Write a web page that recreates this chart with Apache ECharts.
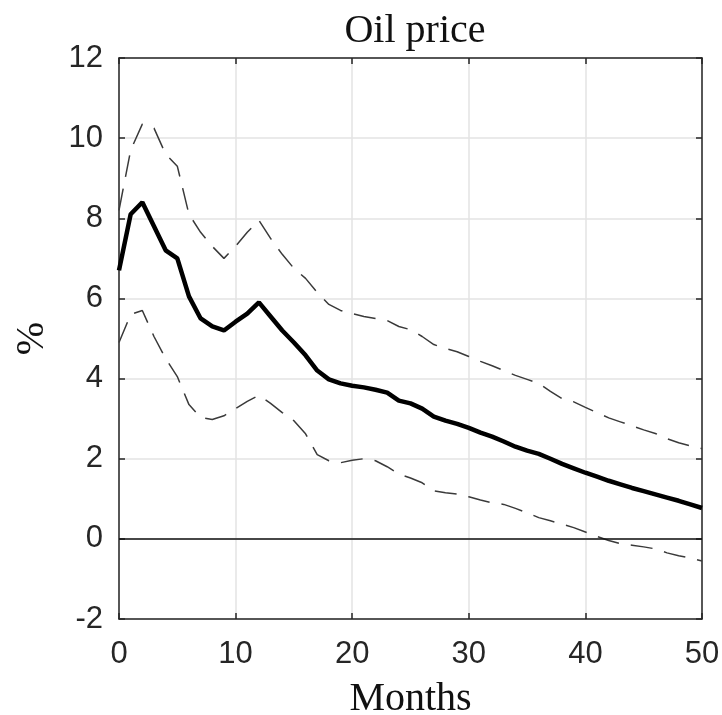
<!DOCTYPE html>
<html>
<head>
<meta charset="utf-8">
<title>Oil price</title>
<script src="https://cdn.jsdelivr.net/npm/echarts@6/dist/echarts.min.js"></script>
<style>
    html, body { margin: 0; padding: 0; background: #fff; }
    #chart { width: 722px; height: 715px; }
</style>
</head>
<body>
<div id="chart"></div>
<script>
// months after the shock
var months = [0, 1, 2, 3, 4, 5, 6, 7, 8, 9, 10, 11, 12, 13, 14, 15, 16, 17, 18, 19, 20,
    21, 22, 23, 24, 25, 26, 27, 28, 29, 30, 31, 32, 33, 34, 35, 36, 37, 38, 39, 40,
    41, 42, 43, 44, 45, 46, 47, 48, 49, 50];

// median response (%)
var median = [6.7, 8.1, 8.4, 7.8, 7.2, 7.0, 6.05, 5.5, 5.3, 5.2, 5.42, 5.62, 5.9, 5.55, 5.2, 4.9, 4.58, 4.2, 3.98, 3.88, 3.82,
    3.78, 3.72, 3.65, 3.45, 3.38, 3.25, 3.05, 2.95, 2.87, 2.77, 2.65, 2.55, 2.43, 2.3, 2.2, 2.12, 2.0, 1.87, 1.76, 1.65,
    1.55, 1.45, 1.36, 1.27, 1.19, 1.11, 1.03, 0.95, 0.86, 0.77];

// upper band
var upper = [8.2, 9.7, 10.35, 10.25, 9.6, 9.3, 8.1, 7.65, 7.3, 7.0, 7.3, 7.65, 7.95, 7.5, 7.1, 6.75, 6.5, 6.15, 5.85, 5.7, 5.62,
    5.55, 5.5, 5.45, 5.3, 5.22, 5.05, 4.85, 4.75, 4.67, 4.55, 4.43, 4.32, 4.2, 4.08, 3.98, 3.88, 3.68, 3.5, 3.42, 3.28,
    3.15, 3.02, 2.92, 2.82, 2.72, 2.63, 2.5, 2.4, 2.32, 2.25];

// lower band
var lower = [4.9, 5.6, 5.7, 5.05, 4.5, 4.05, 3.35, 3.03, 2.98, 3.07, 3.25, 3.43, 3.58, 3.38, 3.15, 2.95, 2.62, 2.1, 1.95, 1.9, 1.96,
    2.0, 1.95, 1.8, 1.62, 1.52, 1.4, 1.2, 1.15, 1.12, 1.05, 0.97, 0.9, 0.86, 0.76, 0.65, 0.53, 0.45, 0.37, 0.28, 0.17,
    0.06, -0.04, -0.12, -0.16, -0.2, -0.25, -0.35, -0.42, -0.48, -0.55];

var xTicks = [0, 10, 20, 30, 40, 50];
var yTicks = [-2, 0, 2, 4, 6, 8, 10, 12];

function pairs(ys) {
    return months.map(function(m, i) { return [m, ys[i]]; });
}

var axisColor = '#262626';
var labelFont = {
    color: '#262626',
    fontFamily: 'Liberation Sans',
    fontSize: 31
};

function initChart() {
    var dom = document.getElementById('chart');
    var myChart = echarts.init(dom);
    var option = {
        animation: false,
        backgroundColor: '#fff',
        title: {
            text: 'Oil price',
            left: 410,
            top: 6,
            textAlign: 'center',
            textStyle: {
                color: '#111',
                fontFamily: 'Liberation Serif',
                fontWeight: 'normal',
                fontSize: 40
            }
        },
        grid: {
            left: 119,
            right: 20,
            top: 58,
            bottom: 96,
            outerBoundsMode: 'none'
        },
        xAxis: [{
            type: 'value',
            min: xTicks[0],
            max: xTicks[xTicks.length - 1],
            interval: 10,
            position: 'bottom',
            name: 'Months',
            nameLocation: 'middle',
            nameGap: 60,
            nameTextStyle: {
                color: '#111',
                fontFamily: 'Liberation Serif',
                fontSize: 40
            },
            axisLine: { onZero: false, lineStyle: { color: axisColor, width: 1.5 } },
            axisTick: { inside: true, length: 6, lineStyle: { color: axisColor, width: 1.5 } },
            axisLabel: Object.assign({ margin: 20 }, labelFont),
            splitLine: { show: true, lineStyle: { color: '#e3e3e3', width: 1.5 } }
        }, {
            type: 'value',
            min: xTicks[0],
            max: xTicks[xTicks.length - 1],
            interval: 10,
            position: 'top',
            axisLine: { onZero: false, lineStyle: { color: axisColor, width: 1.5 } },
            axisTick: { inside: true, length: 6, lineStyle: { color: axisColor, width: 1.5 } },
            axisLabel: { show: false },
            splitLine: { show: false }
        }],
        yAxis: [{
            type: 'value',
            min: yTicks[0],
            max: yTicks[yTicks.length - 1],
            interval: 2,
            position: 'left',
            name: '%',
            nameLocation: 'middle',
            nameGap: 67,
            nameRotate: 90,
            nameTextStyle: {
                color: '#111',
                fontFamily: 'Liberation Serif',
                fontSize: 40
            },
            axisLine: { show: true, onZero: false, lineStyle: { color: axisColor, width: 1.5 } },
            axisTick: { show: true, inside: true, length: 6, lineStyle: { color: axisColor, width: 1.5 } },
            axisLabel: Object.assign({ margin: 16 }, labelFont),
            splitLine: { show: true, lineStyle: { color: '#e3e3e3', width: 1.5 } }
        }, {
            type: 'value',
            min: yTicks[0],
            max: yTicks[yTicks.length - 1],
            interval: 2,
            position: 'right',
            axisLine: { show: true, onZero: false, lineStyle: { color: axisColor, width: 1.5 } },
            axisTick: { show: true, inside: true, length: 6, lineStyle: { color: axisColor, width: 1.5 } },
            axisLabel: { show: false },
            splitLine: { show: false }
        }],
        series: [{
            name: 'upper',
            type: 'line',
            data: pairs(upper),
            showSymbol: false,
            lineStyle: { color: '#3a3a3a', width: 1.5, type: [22, 12] },
            markLine: {
                silent: true,
                symbol: 'none',
                label: { show: false },
                lineStyle: { color: '#111', width: 1.5, type: 'solid' },
                data: [{ yAxis: 0 }]
            }
        }, {
            name: 'lower',
            type: 'line',
            data: pairs(lower),
            showSymbol: false,
            lineStyle: { color: '#3a3a3a', width: 1.5, type: [22, 12] }
        }, {
            name: 'median',
            type: 'line',
            data: pairs(median),
            showSymbol: false,
            lineStyle: { color: '#000', width: 4.5 }
        }]
    };
    myChart.setOption(option, true);
    window.onresize = myChart.resize;
}

initChart();
</script>
</body>
</html>
